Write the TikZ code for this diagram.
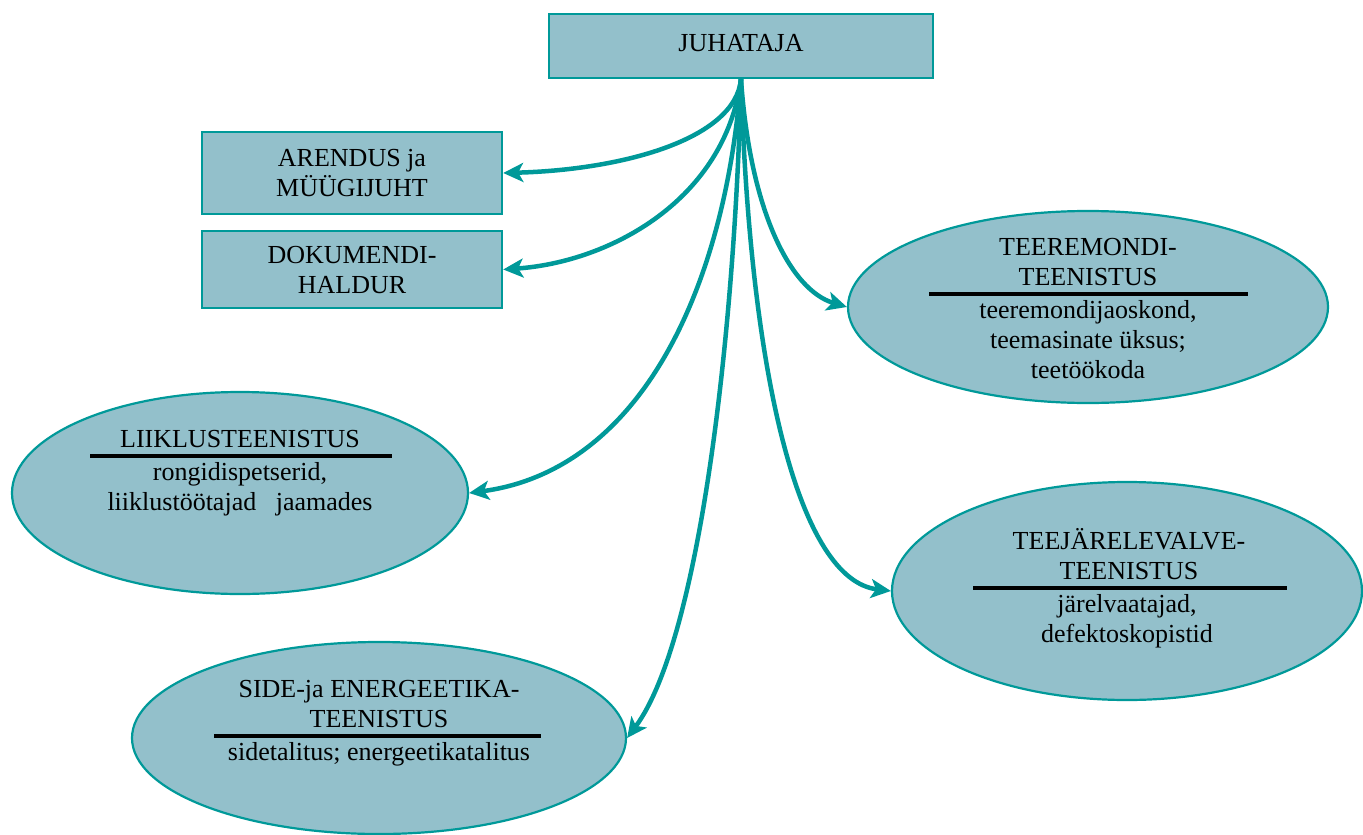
\documentclass[tikz,border=0pt]{standalone}
\usepackage{fontspec}
\setmainfont{Liberation Serif}
\usetikzlibrary{shapes.geometric,arrows.meta}
\definecolor{fillc}{RGB}{147,192,203}
\definecolor{linec}{RGB}{0,153,153}
\tikzset{
  box/.style={draw=linec, line width=2.4pt, fill=fillc, inner sep=0pt},
  oval/.style={draw=linec, line width=2.2pt, fill=fillc, ellipse, inner sep=0pt},
  lbl/.style={font=\fontsize{26}{30}\selectfont, align=center, inner sep=0pt, text=black},
  sep/.style={line width=4.5pt, black},
  conn/.style={draw=linec, line width=4.5pt, -{Stealth[length=20pt,width=19pt,inset=5pt]}},
}
\begin{document}
\begin{tikzpicture}[x=1pt,y=-1pt]
\useasboundingbox (0,0) rectangle (1363,835);
% boxes
\node[box, minimum width=384pt, minimum height=64pt] (juh) at (741,46) {};
\node[lbl] (juht) at (741,43) {JUHATAJA};
\node[box, minimum width=300pt, minimum height=82pt] (are) at (352,173) {};
\node[lbl] (aret) at (352,173) {ARENDUS ja\\MÜÜGIJUHT};
\node[box, minimum width=300pt, minimum height=77pt] (dok) at (352,269.5) {};
\node[lbl] (dokt) at (352,270) {DOKUMENDI-\\HALDUR};
% ellipses
\node[oval, minimum width=480pt, minimum height=192pt] (tee) at (1088,307) {};
\node[lbl, anchor=south] (teet) at (1088,286) {TEEREMONDI-\\TEENISTUS};
\draw[sep] (929,294) coordinate (tl1) -- (1248,294) coordinate (tl2);
\node[lbl, anchor=north] (teeb) at (1088,300) {teeremondijaoskond,\\teemasinate üksus;\\teetöökoda};

\node[oval, minimum width=456pt, minimum height=202pt] (lii) at (240,493) {};
\node[lbl, anchor=south] (liit) at (240,448) {LIIKLUSTEENISTUS};
\draw[sep] (90,456) coordinate (ll1) -- (392,456) coordinate (ll2);
\node[lbl, anchor=north] (liib) at (240,462) {rongidispetserid,\\liiklustöötajad\ \ \ jaamades};

\node[oval, minimum width=470pt, minimum height=218pt] (tej) at (1127,591) {};
\node[lbl, anchor=south] (tejt) at (1129,580) {TEEJÄRELEVALVE-\\TEENISTUS};
\draw[sep] (973,588) coordinate (jl1) -- (1287,588) coordinate (jl2);
\node[lbl, anchor=north] (tejb) at (1127,594) {järelvaatajad,\\defektoskopistid};

\node[oval, minimum width=494pt, minimum height=192pt] (sid) at (379,738) {};
\node[lbl, anchor=south] (sidt) at (379,728) {SIDE-ja ENERGEETIKA-\\TEENISTUS};
\draw[sep] (214,736) coordinate (sl1) -- (541,736) coordinate (sl2);
\node[lbl, anchor=north] (sidb) at (379,742) {sidetalitus; energeetikatalitus};

% connectors
\draw[conn] (juh.south) .. controls (735,140) and (620,170) .. (are.east);
\draw[conn] (juh.south) .. controls (725,200) and (610,262) .. (dok.east);
\draw[conn] (juh.south) .. controls (725,290) and (640,470) .. (lii.east);
\draw[conn] (juh.south) .. controls (735,330) and (700,640) .. (sid.east);
\draw[conn] (juh.south) .. controls (750,210) and (790,290) .. (tee.west);
\draw[conn] (juh.south) .. controls (750,380) and (800,580) .. (tej.west);
\end{tikzpicture}
\end{document}
